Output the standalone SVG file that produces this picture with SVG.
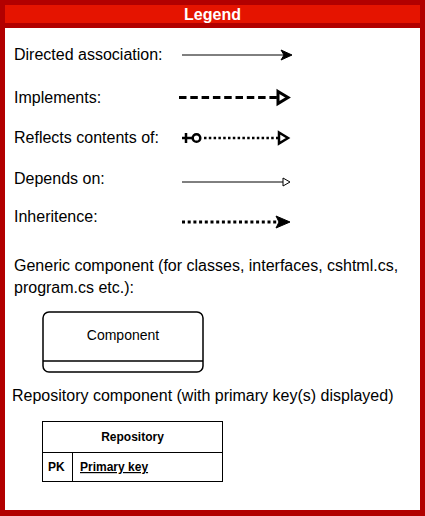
<svg xmlns="http://www.w3.org/2000/svg" width="425" height="516" viewBox="0 0 425 516">
<style>
.lbl{font-family:"Liberation Sans",Arial,sans-serif;font-size:16px;fill:#000}
.t12{font-family:"Liberation Sans",Arial,sans-serif;font-size:12px;font-weight:bold;fill:#000}
.ln{fill:none;stroke:#000}
</style>
<g id="frame">
<rect x="0" y="0" width="425" height="516" fill="#B20000"/>
<rect x="5" y="5" width="415" height="18" fill="#E51400"/>
<rect x="5" y="28" width="415" height="482" fill="#FFFFFF"/>
<text x="212.5" y="20" text-anchor="middle" font-family="Liberation Sans,Arial,sans-serif" font-size="16" font-weight="bold" fill="#FFFFFF">Legend</text>
</g>
<g id="labels">
<text class="lbl" x="14" y="60">Directed association:</text>
<text class="lbl" x="14" y="103">Implements:</text>
<text class="lbl" x="14" y="143">Reflects contents of:</text>
<text class="lbl" x="14" y="184">Depends on:</text>
<text class="lbl" x="14" y="222">Inheritence:</text>
<text class="lbl" x="14" y="271">Generic component (for classes, interfaces, cshtml.cs,</text>
<text class="lbl" x="14" y="293">program.cs etc.):</text>
<text class="lbl" x="12" y="401">Repository component (with primary key(s) displayed)</text>
</g>
<g id="connectors">
<g id="directed-association">
<line class="ln" x1="182" y1="55" x2="284" y2="55" stroke-width="1"/>
<path d="M292,55 L281,50 L284,55 L281,60 Z" fill="#000" stroke="#000" stroke-width="1"/>
</g>
<g id="implements">
<line class="ln" x1="179" y1="97.5" x2="278" y2="97.5" stroke-width="3" stroke-dasharray="7.5 3.8"/>
<path d="M278,91.5 L288,97.5 L278,103.5 Z" fill="#FFF" stroke="#000" stroke-width="3" stroke-linejoin="miter"/>
</g>
<g id="reflects">
<line class="ln" x1="186" y1="133" x2="186" y2="143" stroke-width="2.5"/>
<line class="ln" x1="182" y1="138" x2="192.5" y2="138" stroke-width="2.5"/>
<circle cx="196.5" cy="138" r="3.8" fill="#FFF" stroke="#000" stroke-width="2.5"/>
<line class="ln" x1="204" y1="138" x2="279" y2="138" stroke-width="2.5" stroke-dasharray="2.5 2.3"/>
<path d="M279,132.5 L288,138 L279,143.5 Z" fill="#FFF" stroke="#000" stroke-width="2.5"/>
</g>
<g id="depends">
<line class="ln" x1="182" y1="182" x2="283" y2="182" stroke="#444" stroke-width="1"/>
<path d="M283,178 L290,182 L283,186 Z" fill="#FFF" stroke="#000" stroke-width="1"/>
</g>
<g id="inheritence">
<line class="ln" x1="182" y1="222" x2="280" y2="222" stroke-width="3" stroke-dasharray="3 2.7"/>
<path d="M290,222 L276,216 L279,222 L276,228 Z" fill="#000" stroke="#000" stroke-width="1"/>
</g>
</g>
<g id="component">
<rect x="43" y="312" width="160" height="60" rx="6" ry="6" fill="#FFF" stroke="#000" stroke-width="1.5"/>
<line x1="43" y1="361" x2="203" y2="361" stroke="#000" stroke-width="1.5"/>
<text x="123" y="340" text-anchor="middle" font-family="Liberation Sans,Arial,sans-serif" font-size="14" fill="#000">Component</text>
</g>
<g id="repository">
<rect x="42.5" y="421.5" width="180" height="60" fill="#FFF" stroke="#000" stroke-width="1"/>
<line x1="42.5" y1="452.5" x2="222.5" y2="452.5" stroke="#000" stroke-width="1"/>
<line x1="72.5" y1="452.5" x2="72.5" y2="481.5" stroke="#000" stroke-width="1"/>
<text class="t12" x="132.5" y="441" text-anchor="middle">Repository</text>
<text class="t12" x="48" y="471">PK</text>
<text class="t12" x="80" y="471" text-decoration="underline">Primary key</text>
</g>
</svg>
